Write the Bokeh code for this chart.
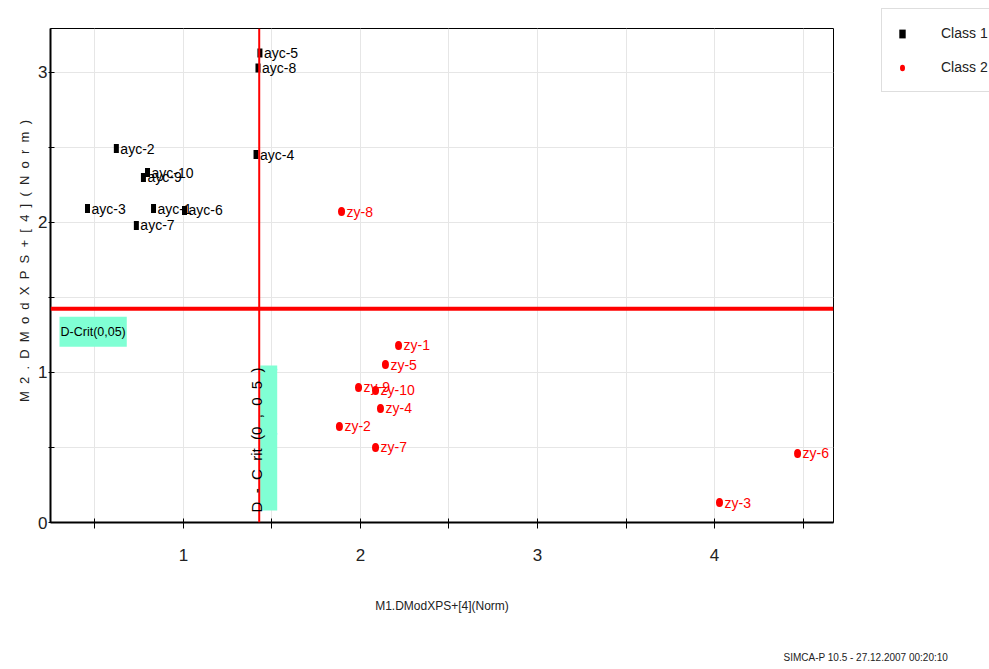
import math

from bokeh.core.properties import value
from bokeh.embed import file_html
from bokeh.models import (ColumnDataSource, FixedTicker, Label, Legend,
                          LegendItem, Range1d, Span, Title)
from bokeh.plotting import figure
from bokeh.resources import INLINE

FONT = "'Liberation Sans', Arial, sans-serif"
NB = "\u00a0"

# Class 1 observations (DModX, model M1 vs model M2)
class1_names = ["ayc-1", "ayc-2", "ayc-3", "ayc-4", "ayc-5",
                "ayc-6", "ayc-7", "ayc-8", "ayc-9", "ayc-10"]
class1_x = [0.831, 0.621, 0.458, 1.410, 1.432, 1.006, 0.734, 1.421, 0.774, 0.797]
class1_y = [2.093, 2.493, 2.093, 2.453, 3.130, 2.080, 1.980, 3.030, 2.300, 2.333]

# Class 2 observations
class2_names = ["zy-1", "zy-2", "zy-3", "zy-4", "zy-5",
                "zy-6", "zy-7", "zy-8", "zy-9", "zy-10"]
class2_x = [2.215, 1.881, 4.028, 2.113, 2.141, 4.469, 2.085, 1.893, 1.989, 2.085]
class2_y = [1.180, 0.640, 0.133, 0.760, 1.053, 0.460, 0.500, 2.073, 0.900, 0.880]

# Critical distances at the 0.05 level
d_crit_x = 1.428
d_crit_y = 1.425
d_crit_text = "D-Crit(0,05)"

x_major = [1, 2, 3, 4]
x_minor = [0.5, 1.5, 2.5, 3.5, 4.5]
y_major = [0, 1, 2, 3]
y_minor = [0.5, 1.5, 2.5]

x_title = "M1.DModXPS+[4](Norm)"
y_title = "M2.DModXPS+[4](Norm)"
footer = "SIMCA-P 10.5 - 27.12.2007 00:20:10"


def spaced(s, gap):
    return (NB * gap).join(s)


src1 = ColumnDataSource(dict(x=class1_x, y=class1_y, name=class1_names))
src2 = ColumnDataSource(dict(x=class2_x, y=class2_y, name=class2_names))

p = figure(frame_width=783, frame_height=494,
           x_range=Range1d(0.249, 4.672), y_range=Range1d(0, 3.293),
           output_backend="svg", toolbar_location=None,
           min_border_left=50, min_border_right=156,
           min_border_top=28, min_border_bottom=147)
p.background_fill_color = "white"
p.border_fill_color = "white"
p.outline_line_color = "black"
p.outline_line_width = 1

# grid at every half unit
for g in (p.xgrid, p.ygrid):
    g.grid_line_color = "#e6e6e6"
    g.minor_grid_line_color = "#e6e6e6"
    g.grid_line_width = 1
    g.minor_grid_line_width = 1

p.xaxis.ticker = FixedTicker(ticks=x_major, minor_ticks=x_minor)
p.yaxis.ticker = FixedTicker(ticks=y_major, minor_ticks=y_minor)

for ax in (p.xaxis, p.yaxis):
    ax.axis_line_color = "black"
    ax.axis_line_width = 2
    ax.major_tick_line_color = "black"
    ax.minor_tick_line_color = "black"
    ax.major_label_text_font = FONT
    ax.major_label_text_font_size = "17px"
    ax.major_label_text_color = "#222222"
    ax.axis_label_text_font = FONT
    ax.axis_label_text_font_style = "normal"
    ax.axis_label_text_color = "#222222"

p.xaxis.major_tick_in = 4
p.xaxis.major_tick_out = 6
p.xaxis.minor_tick_in = 4
p.xaxis.minor_tick_out = 6
p.xaxis.major_label_standoff = 20
p.xaxis.axis_label = x_title
p.xaxis.axis_label_text_font_size = "12px"
p.xaxis.axis_label_standoff = 35

p.yaxis.major_tick_in = 4
p.yaxis.major_tick_out = 2
p.yaxis.minor_tick_in = 4
p.yaxis.minor_tick_out = 2
p.yaxis.major_label_standoff = 1
p.yaxis.axis_label = NB * 8 + spaced(y_title, 2)
p.yaxis.axis_label_text_font_size = "13px"
p.yaxis.axis_label_standoff = 3

vertical_text = (NB * 2).join(["D", "-", "C", "rit", "(0", ",", "0", "5", ")"])

# shaded box behind the vertical critical-limit caption
p.add_layout(Label(x=d_crit_x, y=0, x_offset=18, y_offset=12,
                   angle=math.pi / 2, text=vertical_text,
                   text_color="#80ffd4",
                   text_font=FONT, text_font_size="15px",
                   text_baseline="bottom",
                   background_fill_color="#80ffd4"))

# critical limits
p.add_layout(Span(location=d_crit_y, dimension="width",
                  line_color="#ff0000", line_width=4))
p.add_layout(Span(location=d_crit_x, dimension="height",
                  line_color="#ff0000", line_width=2))

p.add_layout(Label(x=9, x_units="screen", y=d_crit_y, y_offset=-8,
                   text=d_crit_text, text_font=FONT, text_font_size="12.5px",
                   text_baseline="top", text_color="black",
                   background_fill_color="#80ffd4",
                   padding=dict(left=1, right=1, top=8, bottom=8)))

p.add_layout(Label(x=d_crit_x, y=0, x_offset=-3, y_offset=10,
                   angle=math.pi / 2, text=vertical_text,
                   text_font=FONT, text_font_size="15px",
                   text_baseline="alphabetic", text_color="black"))

# observations
r1 = p.rect("x", "y", width=5, height=9, width_units="screen",
            height_units="screen", fill_color="black", line_color=None,
            source=src1)
r2 = p.ellipse("x", "y", width=7, height=9, width_units="screen",
               height_units="screen", fill_color="#ff0000", line_color=None,
               source=src2)

p.text("x", "y", text="name", x_offset=4, text_baseline="middle",
       text_font=value(FONT), text_font_size="14px", text_color="black",
       source=src1)
p.text("x", "y", text="name", x_offset=5, text_baseline="middle",
       text_font=value(FONT), text_font_size="14px", text_color="#ff0000",
       source=src2)

legend = Legend(items=[LegendItem(label="Class 1", renderers=[r1]),
                       LegendItem(label="Class 2", renderers=[r2])],
                location=(48, 430), margin=0, padding=16, spacing=18,
                glyph_width=8, glyph_height=11, label_standoff=35,
                label_text_font=FONT, label_text_font_size="14px",
                label_text_color="#222222",
                border_line_color="#bdbdbd", border_line_width=1,
                background_fill_color="white", background_fill_alpha=1)
p.add_layout(legend, "right")

p.add_layout(Title(text=footer, align="left", offset=733, standoff=69,
                   text_font=FONT, text_font_size="10px",
                   text_font_style="normal", text_color="#222222"), "below")

open("out.html", "w").write(file_html(p, INLINE))
